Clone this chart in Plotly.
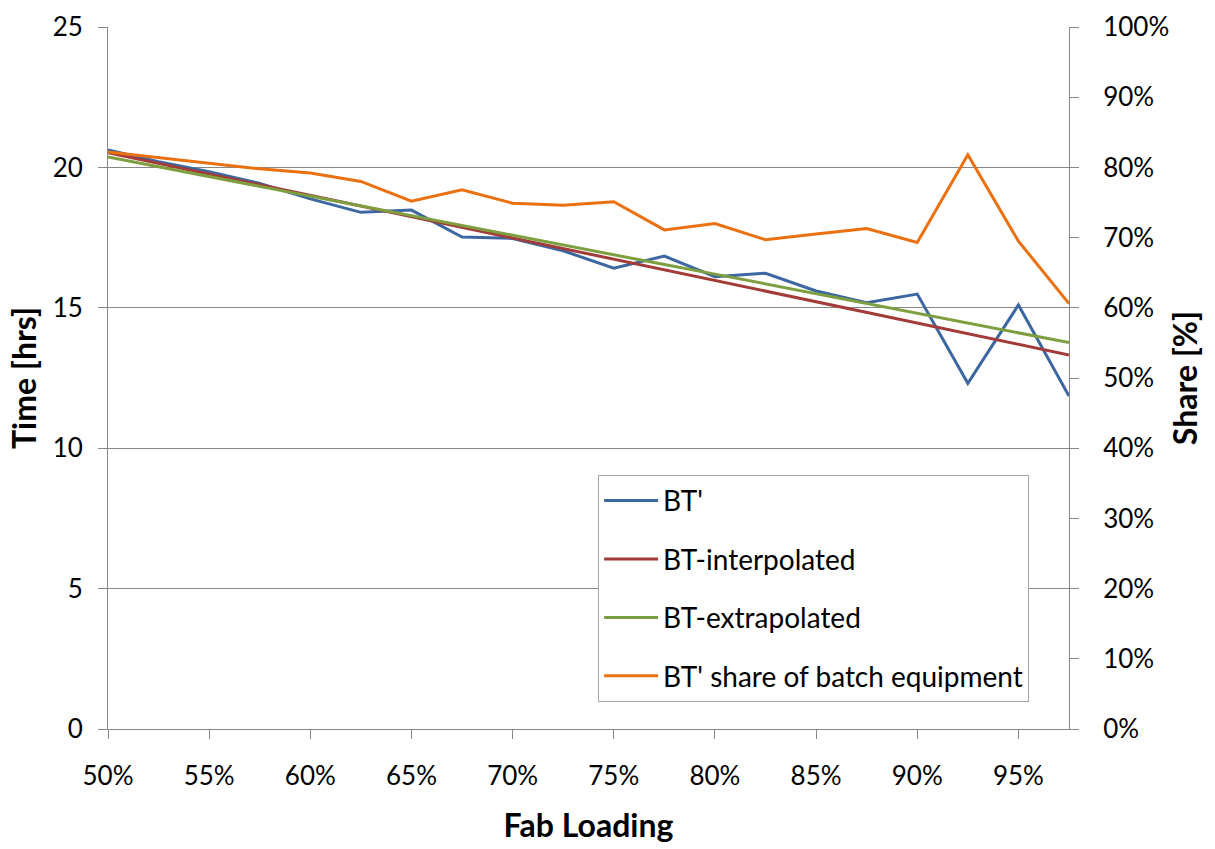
import plotly.graph_objects as go

# Fab loading levels (x axis)
loading = [0.500, 0.525, 0.550, 0.575, 0.600, 0.625, 0.650, 0.675, 0.700, 0.725,
           0.750, 0.775, 0.800, 0.825, 0.850, 0.875, 0.900, 0.925, 0.950, 0.975]

# Time series [hrs], left axis
bt_prime = [20.62, 20.20, 19.85, 19.43, 18.88, 18.40, 18.48, 17.52, 17.47, 17.03,
            16.41, 16.84, 16.11, 16.23, 15.60, 15.18, 15.49, 12.31, 15.10, 11.86]
bt_interpolated = [20.52, 20.14, 19.76, 19.38, 19.00, 18.62, 18.25, 17.87, 17.49, 17.11,
                   16.73, 16.35, 15.97, 15.59, 15.21, 14.83, 14.45, 14.07, 13.70, 13.32]
bt_extrapolated = [20.37, 20.02, 19.67, 19.33, 18.98, 18.63, 18.28, 17.93, 17.59, 17.24,
                   16.89, 16.54, 16.20, 15.85, 15.50, 15.15, 14.80, 14.46, 14.11, 13.76]

# Share of batch equipment [%], right axis
bt_share = [82.2, 81.4, 80.6, 79.8, 79.2, 78.0, 75.2, 76.8, 74.9, 74.6,
            75.1, 71.1, 72.0, 69.7, 70.5, 71.3, 69.3, 81.8, 69.5, 60.6]

x_ticks = [0.50, 0.55, 0.60, 0.65, 0.70, 0.75, 0.80, 0.85, 0.90, 0.95]
x_tick_text = ["50%", "55%", "60%", "65%", "70%", "75%", "80%", "85%", "90%", "95%"]

FONT = "Lato"
GRID = "#878787"

fig = go.Figure()

series = [
    ("BT'", bt_prime, "#3C67A0", "y"),
    ("BT-interpolated", bt_interpolated, "#A33B39", "y"),
    ("BT-extrapolated", bt_extrapolated, "#7E9F3F", "y"),
    ("BT' share of batch equipment", bt_share, "#EB700F", "y2"),
]
for i, (name, vals, color, axis) in enumerate(series):
    fig.add_trace(go.Scatter(
        x=loading, y=vals, name=name, mode="lines", yaxis=axis,
        line=dict(color=color, width=3), legendgroup=f"g{i}",
    ))

fig.update_layout(
    width=1215, height=849,
    margin=dict(l=108, r=146, t=27, b=120, autoexpand=False),
    paper_bgcolor="white", plot_bgcolor="white",
    font=dict(family=FONT, size=26, color="black"),
    showlegend=True,
    legend=dict(
        x=0.51, y=0.362, xanchor="left", yanchor="top",
        bgcolor="white", bordercolor="#A6A6A6", borderwidth=1,
        font=dict(family=FONT, size=28),
        tracegroupgap=19, traceorder="grouped",
        itemwidth=54,
    ),
    xaxis=dict(
        range=[0.5, 0.975], tickvals=x_ticks, ticktext=x_tick_text,
        showgrid=False, zeroline=False,
        showline=True, linecolor=GRID, linewidth=1,
        ticks="outside", ticklen=9, tickcolor=GRID, tickwidth=1,
        ticklabelstandoff=15,
        title=dict(text="<b>Fab Loading</b>", font=dict(family=FONT, size=32), standoff=24),
        automargin=False,
    ),
    yaxis=dict(
        range=[0, 25], dtick=5, tick0=0,
        showgrid=True, gridcolor=GRID, gridwidth=1, zeroline=False,
        showline=True, linecolor=GRID, linewidth=1,
        ticks="outside", ticklen=9, tickcolor=GRID, tickwidth=1,
        ticklabelstandoff=10,
        title=dict(text="<b>Time [hrs]</b>", font=dict(family=FONT, size=32), standoff=6),
        automargin=False,
    ),
    yaxis2=dict(
        range=[0, 100], dtick=10, tick0=0, ticksuffix="%",
        overlaying="y", side="right",
        showgrid=False, zeroline=False,
        showline=True, linecolor=GRID, linewidth=1,
        ticks="outside", ticklen=9, tickcolor=GRID, tickwidth=1,
        ticklabelstandoff=19,
        title=dict(text="<b>Share [%]</b>", font=dict(family=FONT, size=32), standoff=6),
        automargin=False,
    ),
)

fig.write_html("out.html")
